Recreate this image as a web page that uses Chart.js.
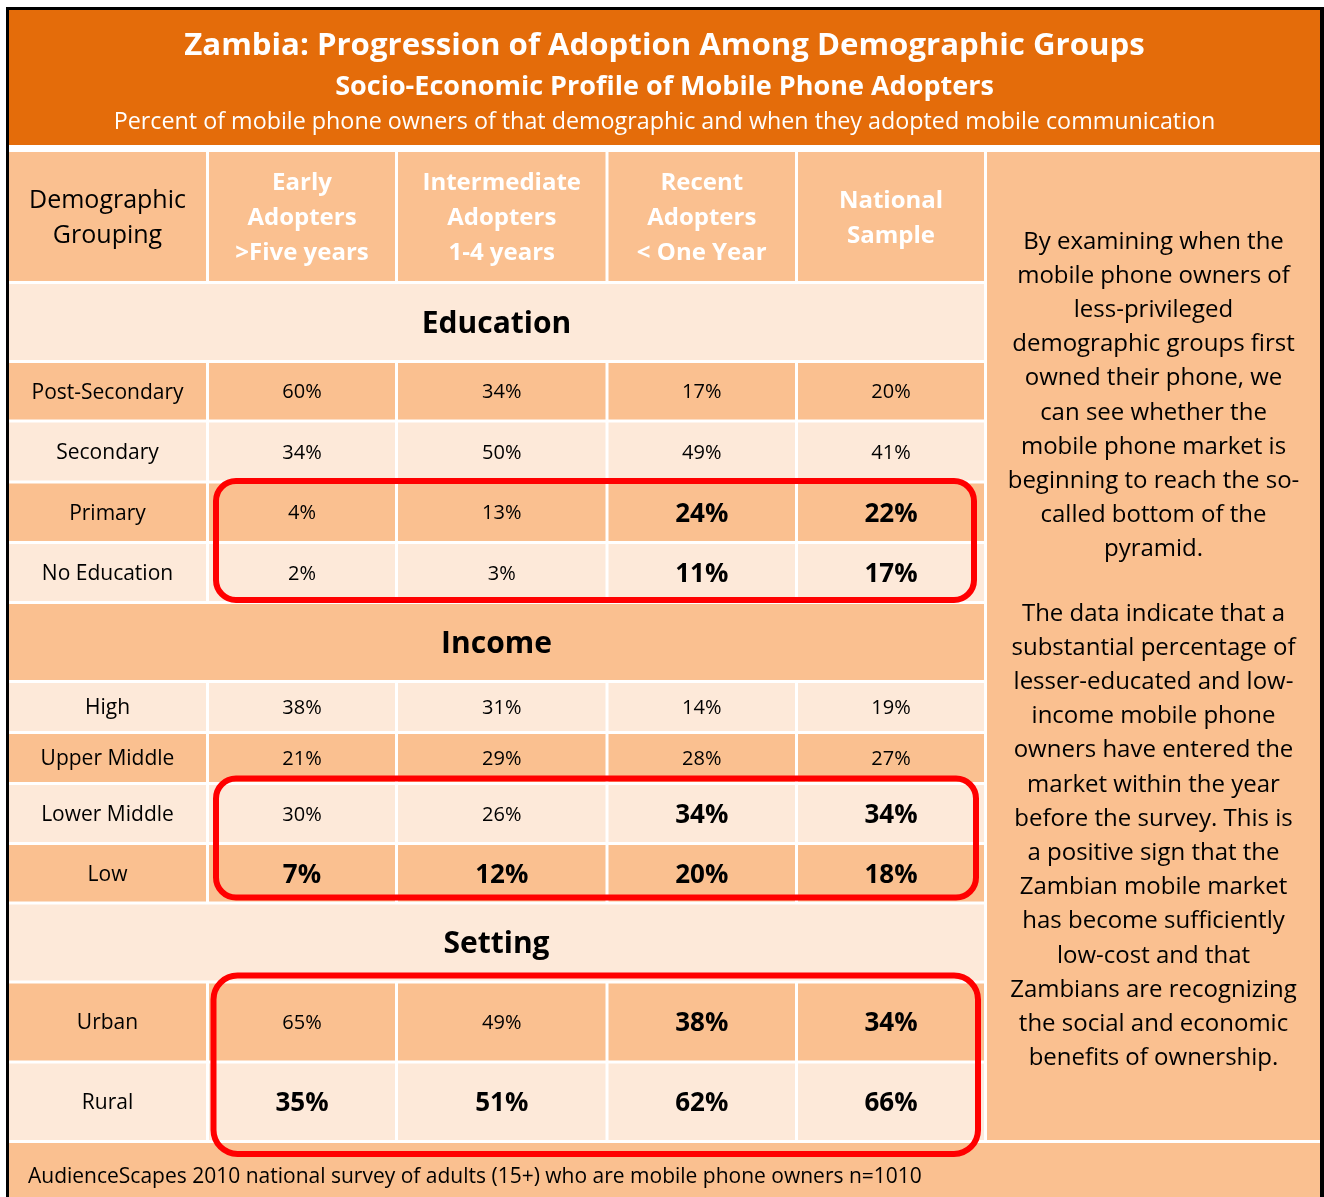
<!DOCTYPE html>
<html>
<head>
<meta charset="utf-8">
<title>Zambia: Progression of Adoption Among Demographic Groups</title>
<script src="https://cdn.jsdelivr.net/npm/chart.js@4.4.0/dist/chart.umd.min.js"></script>
<style>
  body { margin: 0; background: #fff; }
  #c { position: absolute; left: 0; top: 0; }
</style>
</head>
<body>
<canvas id="c" width="1324" height="1197"></canvas>
<script>
// ---- data ----
const groups = ['Education', 'Income', 'Setting'];
const rowLabels = ['Post-Secondary', 'Secondary', 'Primary', 'No Education',
                   'High', 'Upper Middle', 'Lower Middle', 'Low',
                   'Urban', 'Rural'];
const rowGroup = [0, 0, 0, 0, 1, 1, 1, 1, 2, 2];
const columnHeads = [['Demographic', 'Grouping'],
                     ['Early', 'Adopters', '>Five years'],
                     ['Intermediate', 'Adopters', '1-4 years'],
                     ['Recent', 'Adopters', '< One Year'],
                     ['National', 'Sample']];
const early        = [60, 34, 4, 2, 38, 21, 30, 7, 65, 35];
const intermediate = [34, 50, 13, 3, 31, 29, 26, 12, 49, 51];
const recent       = [17, 49, 24, 11, 14, 28, 34, 20, 38, 62];
const national     = [20, 41, 22, 17, 19, 27, 34, 18, 34, 66];
const series = [early, intermediate, recent, national];
// cells written in bold, by row label -> series index
const boldCells = {
  'Primary': [2, 3], 'No Education': [2, 3],
  'Lower Middle': [2, 3], 'Low': [0, 1, 2, 3],
  'Urban': [2, 3], 'Rural': [0, 1, 2, 3]
};
const highlighted = [['Primary', 'No Education'], ['Lower Middle', 'Low'], ['Urban', 'Rural']];

const title = 'Zambia: Progression of Adoption Among Demographic Groups';
const subtitle = 'Socio-Economic Profile of Mobile Phone Adopters';
const note = 'Percent of mobile phone owners of that demographic and when they adopted mobile communication';
const sideText = [
  ['By examining when the', 'mobile phone owners of', 'less-privileged',
   'demographic groups first', 'owned their phone, we', 'can see whether the',
   'mobile phone market is', 'beginning to reach the so-', 'called bottom of the', 'pyramid.'],
  ['The data indicate that a', 'substantial percentage of', 'lesser-educated and low-',
   'income mobile phone', 'owners have entered the', 'market within the year',
   'before the survey. This is', 'a positive sign that the', 'Zambian mobile market',
   'has become sufficiently', 'low-cost and that', 'Zambians are recognizing',
   'the social and economic', 'benefits of ownership.']
];
const source = 'AudienceScapes 2010 national survey of adults (15+) who are mobile phone owners n=1010';

// ---- layout (page pixels) ----
const GAP = 3;
const colEdges = [7.5, 207.5, 396.5, 607, 796.5, 985.5];
const rowEdges = [150.5, 282.5, 361.5, 421, 482, 542.5, 602.5, 681.5, 732.5, 783.5, 843.5, 903, 982, 1062, 1141.5];
const ORANGE = '#FAC090', LIGHT = '#FDE9D9', DARK = '#E46C0A', RED = '#FF0000';
const FONT = '"Open Sans"';
// red box offsets from the cell block: left, right, top, bottom, radius
const boxPads = [[7, 10, 2.5, 1, 20], [7, 8, 6.5, 4, 20], [4.5, 6, 8, -14, 24]];

// row order of the table: header, then each group title followed by its rows
const order = [{ type: 'head' }];
groups.forEach((g, gi) => {
  order.push({ type: 'group', label: g });
  rowLabels.forEach((lab, ri) => { if (rowGroup[ri] === gi) order.push({ type: 'row', index: ri }); });
});

const cellY = k => [rowEdges[k] + GAP / 2, rowEdges[k + 1] - GAP / 2];
const colMid = c => (colEdges[c] + colEdges[c + 1]) / 2;
const rowMid = k => (rowEdges[k] + rowEdges[k + 1]) / 2;
const shade = k => (k % 2 === 0 ? ORANGE : LIGHT);

function block(label, x0, x1, y0, y1, color) {
  return {
    label, stack: 'cells', inflateAmount: 0, borderWidth: 0,
    barThickness: x1 - x0, backgroundColor: color,
    data: [{ x: (x0 + x1) / 2, y: [y0, y1] }]
  };
}

const datasets = [
  block('header band', 9, 1320, 10, 145, DARK),
  block('side panel', 987, 1320, 152, 1140, ORANGE),
  block('footer', 9, 1320, 1143, 1197, ORANGE)
];
for (let c = 0; c < 5; c++) {
  datasets.push({
    label: 'column ' + c, stack: 'cells', inflateAmount: 0, borderWidth: 0,
    barThickness: colEdges[c + 1] - colEdges[c] - GAP,
    backgroundColor: ctx => shade(ctx.raw.k),
    data: order.map((r, k) => ({ x: colMid(c), y: cellY(k), k })).filter(p => order[p.k].type !== 'group')
  });
}
datasets.push({
  label: 'groups', stack: 'cells', inflateAmount: 0, borderWidth: 0,
  barThickness: colEdges[5] - colEdges[0] - GAP,
  backgroundColor: ctx => shade(ctx.raw.k),
  data: order.map((r, k) => ({ x: (colEdges[0] + colEdges[5]) / 2, y: cellY(k), k })).filter(p => order[p.k].type === 'group')
});

function put(ctx, text, x, y, size, bold, color, align) {
  ctx.font = (bold ? 'bold ' : '') + size + 'px ' + FONT;
  ctx.fillStyle = color;
  ctx.textAlign = align || 'center';
  ctx.textBaseline = 'alphabetic';
  ctx.fillText(text, x, y + size * 0.357);
}

const tableText = {
  id: 'tableText',
  beforeDatasetsDraw(chart) {
    const { ctx, scales: { x, y } } = chart;
    const px = v => x.getPixelForValue(v), py = v => y.getPixelForValue(v);
    ctx.save();
    ctx.fillStyle = '#000';
    ctx.fillRect(px(6), py(7), px(9) - px(6), py(1197) - py(7));
    ctx.fillRect(px(6), py(7), px(1324) - px(6), py(10) - py(7));
    ctx.fillRect(px(1320), py(7), px(1324) - px(1320), py(1197) - py(7));
    ctx.restore();
  },
  afterDatasetsDraw(chart) {
    const { ctx, scales: { x, y } } = chart;
    const px = v => x.getPixelForValue(v), py = v => y.getPixelForValue(v);
    ctx.save();
    // header band
    put(ctx, title, px(664.5), py(44), 31.2, true, '#fff');
    put(ctx, subtitle, px(664.5), py(85.5), 27, true, '#fff');
    put(ctx, note, px(664.5), py(121), 23.3, false, '#fff');

    order.forEach((r, k) => {
      const ym = rowMid(k);
      if (r.type === 'head') {
        columnHeads.forEach((lines, c) => {
          const step = 35;
          const top = ym - (lines.length - 1) * step / 2;
          lines.forEach((t, li) => put(ctx, t, px(colMid(c)), py(top + li * step),
            c > 0 ? 24 : 25, c > 0, c > 0 ? '#fff' : '#000'));
        });
      } else if (r.type === 'group') {
        put(ctx, r.label, px((colEdges[0] + colEdges[5]) / 2), py(ym), 30, true, '#000');
      } else {
        const lab = rowLabels[r.index];
        put(ctx, lab, px(colMid(0)), py(ym), 21, false, '#000');
        series.forEach((s, si) => {
          const b = (boldCells[lab] || []).includes(si);
          put(ctx, s[r.index] + '%', px(colMid(si + 1)), py(ym), b ? 26 : 20, b, '#000');
        });
      }
    });

    // side panel text
    const sideStarts = [240, 612];
    sideText.forEach((para, pi) => {
      para.forEach((t, li) => put(ctx, t, px(1153.5), py(sideStarts[pi] + li * 34.2), 24, false, '#000'));
    });
    put(ctx, source, px(28), py(1176), 21, false, '#000', 'left');

    // highlight boxes
    ctx.strokeStyle = RED;
    ctx.lineWidth = 6;
    highlighted.forEach((pair, bi) => {
      const k0 = order.findIndex(r => r.type === 'row' && rowLabels[r.index] === pair[0]);
      const k1 = order.findIndex(r => r.type === 'row' && rowLabels[r.index] === pair[1]);
      const [pl, pr, pt, pb, rad] = boxPads[bi];
      const l = px(colEdges[1] + GAP / 2 + pl);
      const rr = px(colEdges[5] - GAP / 2 - pr);
      const t = py(cellY(k0)[0] - pt);
      const b = py(cellY(k1)[1] - pb);
      ctx.beginPath();
      ctx.roundRect(l, t, rr - l, b - t, rad);
      ctx.stroke();
    });
    ctx.restore();
  }
};

new Chart('c', {
  type: 'bar',
  data: { datasets },
  options: {
    responsive: false,
    devicePixelRatio: 1,
    animation: false,
    layout: { padding: 0 },
    plugins: { legend: { display: false }, tooltip: { enabled: false } },
    scales: {
      x: { type: 'linear', min: 0, max: 1324, offset: false, display: false, stacked: true },
      y: { type: 'linear', min: 0, max: 1197, offset: false, reverse: true, display: false, stacked: false }
    }
  },
  plugins: [tableText]
});
</script>
</body>
</html>
